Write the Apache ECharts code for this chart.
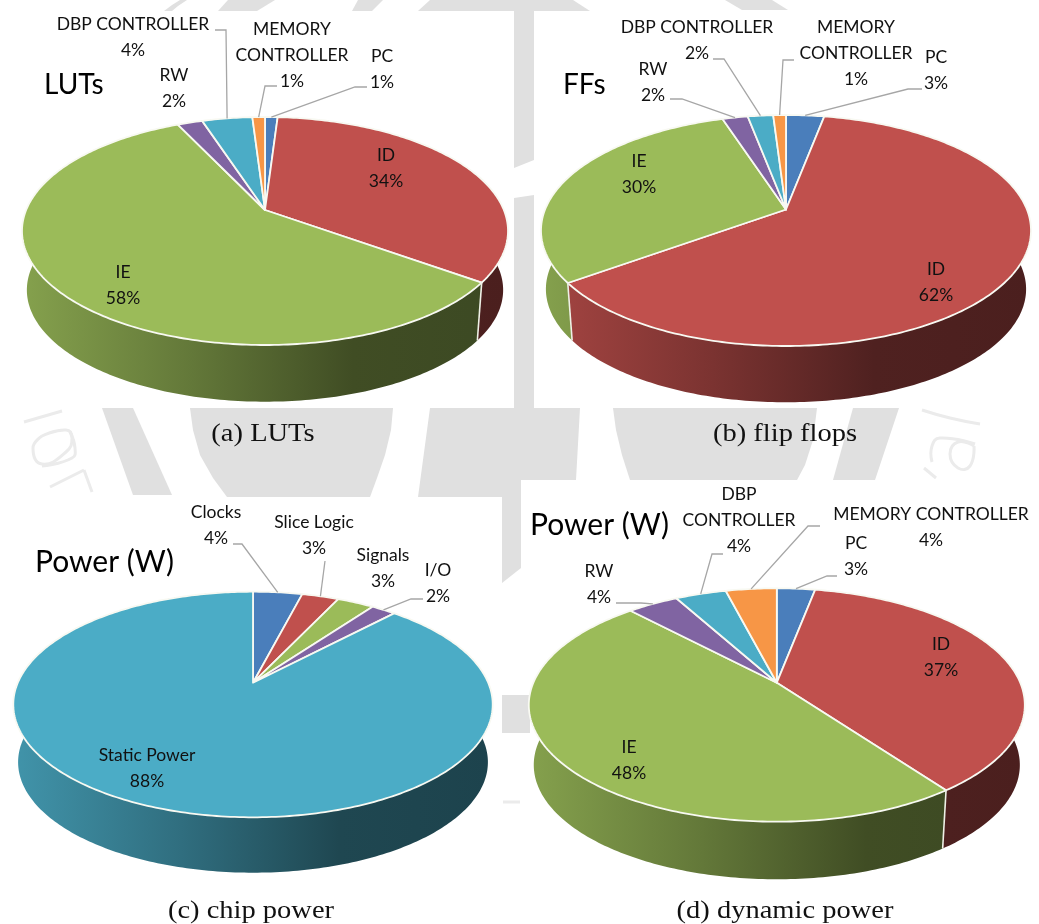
<!DOCTYPE html>
<html>
<head>
<meta charset="utf-8">
<title>FPGA resource and power breakdown</title>
<style>
  html, body { margin: 0; padding: 0; background: #ffffff; }
  #chart { width: 1039px; height: 924px; }
</style>
<script src="https://cdn.jsdelivr.net/npm/echarts@6/dist/echarts.min.js"></script>
</head>
<body>
<div id="chart"></div>
<script>
// Per-module shares, in percent, listed clockwise from twelve o'clock.
const lutsNames = ['PC', 'ID', 'IE', 'RW', 'DBP CONTROLLER', 'MEMORY\nCONTROLLER'];
const lutsValues = [1, 34, 58, 2, 4, 1];

const flopsNames = ['PC', 'ID', 'IE', 'RW', 'DBP CONTROLLER', 'MEMORY\nCONTROLLER'];
const flopsValues = [3, 62, 30, 2, 2, 1];

const chipNames = ['Clocks', 'Slice Logic', 'Signals', 'I/O', 'Static Power'];
const chipValues = [4, 3, 3, 2, 88];

const dynamicNames = ['PC', 'ID', 'IE', 'RW', 'DBP\nCONTROLLER', 'MEMORY CONTROLLER'];
const dynamicValues = [3, 37, 48, 4, 4, 4];

const BLUE = '#4a7ebb', RED = '#c0504d', GREEN = '#9bbb59',
      PURPLE = '#8064a2', CYAN = '#4bacc6', ORANGE = '#f79646';
const moduleColors = [BLUE, RED, GREEN, PURPLE, CYAN, ORANGE];
const chipColors = [BLUE, RED, GREEN, PURPLE, CYAN];

const LABEL_FONT = '"Lato", "Open Sans", sans-serif';
const CAPTION_FONT = '"Liberation Serif", serif';
const WALL_SHRINK = 0.98;

// Disc geometry: apex of the slices, half width, rim top/bottom and wall bottom.
// Each label gives its centre; "via" is the leader's path up to the slice rim.
const panels = [
  {
    names: lutsNames, values: lutsValues, colors: moduleColors,
    ax: 265, ay: 210, rx: 243, top: 117, bottom: 345, floor: 401.7,
    labels: [
      { x: 382, y: 69, via: [[367, 87], [355, 87]] },
      { x: 386, y: 168 },
      { x: 123, y: 285 },
      { x: 174, y: 88.5 },
      { x: 133, y: 37, via: [[215, 30], [226, 30]] },
      { x: 292, y: 55, via: [[277, 86], [265, 86]] }
    ]
  },
  {
    names: flopsNames, values: flopsValues, colors: moduleColors,
    ax: 786, ay: 209.5, rx: 245, top: 115, bottom: 346, floor: 402.3,
    labels: [
      { x: 936, y: 70, via: [[922, 89], [908, 89]] },
      { x: 936, y: 282 },
      { x: 639, y: 174.5 },
      { x: 653, y: 82, via: [[670, 99], [682, 99]] },
      { x: 697, y: 40, via: [[713, 59], [724, 59]] },
      { x: 856, y: 53, via: [[794, 60], [783, 60]] }
    ]
  },
  {
    names: chipNames, values: chipValues, colors: chipColors,
    ax: 253, ay: 682.7, rx: 239.7, top: 591.7, bottom: 817.3, floor: 872.7,
    labels: [
      { x: 216, y: 525.5, via: [[233, 544], [242, 544]] },
      { x: 314, y: 535.5, via: [[325, 561]] },
      { x: 383, y: 568.5 },
      { x: 438, y: 583, via: [[423, 599], [411, 599]] },
      { x: 147, y: 768 }
    ]
  },
  {
    names: dynamicNames, values: dynamicValues, colors: moduleColors,
    ax: 776.8, ay: 682.7, rx: 248, top: 588.3, bottom: 821.7, floor: 879.3,
    labels: [
      { x: 856, y: 556, via: [[837, 576], [827, 576]] },
      { x: 941, y: 657.5 },
      { x: 629, y: 760 },
      { x: 599, y: 584, via: [[616, 603], [641, 603]] },
      { x: 739, y: 520, via: [[723, 554], [712, 554]] },
      { x: 931, y: 527.5, via: [[820, 526], [808, 526]] }
    ]
  }
];

const headings = [
  { text: 'LUTs', x: 44, y: 85, size: 28 },
  { text: 'FFs', x: 563, y: 85, size: 28 },
  { text: 'Power (W)', x: 35, y: 562, size: 30 },
  { text: 'Power (W)', x: 530, y: 525, size: 30 }
];

const captions = [
  { text: '(a) LUTs', x: 263, y: 434 },
  { text: '(b) flip flops', x: 785, y: 434 },
  { text: '(c) chip power', x: 251, y: 911 },
  { text: '(d) dynamic power', x: 785, y: 911 }
];

// A tilted disc is a perspective image of a circle: the slice apex sits above
// the centre of the visible ellipse, and slices keep their angle on the circle.
function makeProjection(p) {
  const up = p.ay - p.top, down = p.bottom - p.ay;
  const k = (down - up) / (down + up);
  const sy = up * (1 + k);
  const sx = p.rx * Math.sqrt(1 - k * k);
  const wallDrop = p.floor - p.ay - WALL_SHRINK * down;
  const at = (share, lower) => {
    const theta = share / 100 * Math.PI * 2;
    const u = Math.sin(theta), v = -Math.cos(theta), w = 1 - k * v;
    const s = lower ? WALL_SHRINK : 1;
    return [p.ax + s * sx * u / w, p.ay + (lower ? wallDrop : 0) + s * sy * v / w];
  };
  return { at, k };
}

function arcPoints(at, from, to, lower) {
  const steps = Math.max(2, Math.ceil((to - from) * 4));
  const pts = [];
  for (let i = 0; i <= steps; i++) pts.push(at(from + (to - from) * i / steps, lower));
  return pts;
}

function shade(hex, f) {
  const n = parseInt(hex.slice(1), 16);
  const c = [n >> 16, (n >> 8) & 255, n & 255].map(x => Math.round(x * f));
  return 'rgb(' + c.join(',') + ')';
}

function wallFill(p, color) {
  return new echarts.graphic.LinearGradient(p.ax - p.rx, 0, p.ax + p.rx, 0, [
    { offset: 0, color: shade(color, 0.86) },
    { offset: 0.35, color: shade(color, 0.64) },
    { offset: 0.68, color: shade(color, 0.41) },
    { offset: 1, color: shade(color, 0.39) }
  ], true);
}

function shareBefore(p, index) {
  return p.values.slice(0, index).reduce((a, b) => a + b, 0);
}

function wallSeries(p) {
  const proj = makeProjection(p);
  return {
    type: 'custom', coordinateSystem: 'none', z: 2, silent: true, animation: false,
    data: p.values,
    renderItem(params, api) {
      const from = shareBefore(p, params.dataIndex), to = from + api.value(0);
      const upper = arcPoints(proj.at, from, to, false);
      const lower = arcPoints(proj.at, from, to, true).reverse();
      return {
        type: 'polygon',
        shape: { points: upper.concat(lower) },
        style: { fill: wallFill(p, p.colors[params.dataIndex]) }
      };
    }
  };
}

function faceSeries(p) {
  const proj = makeProjection(p);
  return {
    type: 'custom', coordinateSystem: 'none', z: 3, silent: true, animation: false,
    data: p.values,
    renderItem(params, api) {
      const from = shareBefore(p, params.dataIndex), to = from + api.value(0);
      const children = [{
        type: 'polygon',
        shape: { points: [[p.ax, p.ay]].concat(arcPoints(proj.at, from, to, false)) },
        style: { fill: p.colors[params.dataIndex], stroke: '#f8f9f2', lineWidth: 1.8, lineJoin: 'round' }
      }];
      // Slice boundaries that fall on the front of the disc continue down the wall.
      const v = -Math.cos(from / 100 * Math.PI * 2);
      if (v > proj.k) {
        const a = proj.at(from, false), b = proj.at(from, true);
        children.push({
          type: 'line',
          shape: { x1: a[0], y1: a[1], x2: b[0], y2: b[1] },
          style: { stroke: '#eef0e6', lineWidth: 1.6 }
        });
      }
      return { type: 'group', children };
    }
  };
}

function labelSeries(p) {
  const proj = makeProjection(p);
  return {
    type: 'custom', coordinateSystem: 'none', z: 4, silent: true, animation: false,
    data: p.values,
    renderItem(params, api) {
      const i = params.dataIndex, value = api.value(0);
      const label = p.labels[i];
      const children = [{
        type: 'text',
        style: {
          text: p.names[i] + '\n' + value + '%',
          x: label.x, y: label.y,
          align: 'center', verticalAlign: 'middle',
          fill: '#111111',
          font: '17.5px ' + LABEL_FONT,
          lineHeight: 26
        }
      }];
      if (label.via) {
        const rim = proj.at(shareBefore(p, i) + value / 2, false);
        children.push({
          type: 'polyline',
          shape: { points: label.via.concat([rim]) },
          style: { stroke: '#a6a6a6', lineWidth: 1.3, fill: null }
        });
      }
      return { type: 'group', children };
    }
  };
}

// Pale backdrop behind the four panels.
const backdropColor = '#e0e0e0';
const backdropShapes = [
  [[164, 11], [172, 5], [180, 0], [187, 0], [178, 6], [172, 11]],
  [[228, 0], [275, 0], [257, 11], [218, 11]],
  [[358, 0], [383, 0], [372, 11], [352, 11]],
  [[430, 0], [573, 0], [590, 11], [418, 11]],
  [[725, 0], [772, 0], [788, 10], [742, 10]],
  [[514, 0], [534, 0], [534, 408], [514, 408]],
  [[102, 408], [133, 408], [172, 495], [133, 495]],
  [[190, 408], [393, 408], [391, 430], [385, 455], [377, 478], [370, 497], [227, 497], [213, 478], [200, 455], [193, 430]],
  [[430, 408], [580, 408], [576, 480], [521, 480], [521, 568], [502, 583], [502, 497], [418, 497]],
  [[613, 408], [817, 408], [813, 440], [805, 465], [797, 480], [630, 480], [622, 455], [616, 430]],
  [[853, 408], [899, 408], [875, 480], [833, 480]]
];
const backdropStrokes = [
  [[24, 422], [62, 411]],
  [[50, 487], [84, 470]],
  [[84, 470], [92, 492]],
  [[42, 436], [33, 448], [42, 464], [66, 452], [72, 438], [66, 430], [42, 436]],
  [[70, 432], [75, 448], [72, 458], [42, 466]],
  [[922, 410], [950, 418], [980, 424]],
  [[974, 446], [958, 442], [950, 454], [958, 468], [970, 466], [974, 446]],
  [[975, 444], [940, 438], [932, 446], [932, 462]],
  [[924, 468], [936, 478]],
  [[503, 802], [520, 802]]
];

function buildGraphics() {
  const elements = [];
  backdropShapes.forEach(points => elements.push({
    type: 'polygon', z: 0, shape: { points }, style: { fill: backdropColor }
  }));
  backdropStrokes.forEach(points => elements.push({
    type: 'polyline', z: 0, shape: { points, smooth: points.length > 2 ? 0.5 : 0 },
    style: { stroke: '#ebebeb', lineWidth: 3, fill: null, lineJoin: 'round' }
  }));
  // Notch in the centre strip and the patch beside the lower-left panel.
  elements.push({ type: 'polygon', z: 1, shape: { points: [[514, 168], [534, 160], [534, 195], [514, 198]] }, style: { fill: '#ffffff' } });
  elements.push({ type: 'rect', z: 1, shape: { x: 502, y: 695, width: 28, height: 38 }, style: { fill: backdropColor } });
  headings.forEach(h => elements.push({
    type: 'text', z: 5, silent: true,
    style: { text: h.text, x: h.x, y: h.y, verticalAlign: 'middle', fill: '#000000', font: h.size + 'px ' + LABEL_FONT }
  }));
  // The caption face runs narrow, so it is stretched sideways about its centre.
  captions.forEach(c => elements.push({
    type: 'text', z: 5, silent: true, x: c.x, y: c.y, scaleX: 1.14,
    style: { text: c.text, x: 0, y: 0, align: 'center', verticalAlign: 'middle', fill: '#111111', font: '25px ' + CAPTION_FONT }
  }));
  return elements;
}

const chart = echarts.init(document.getElementById('chart'), null, { renderer: 'canvas' });
chart.setOption({
  animation: false,
  backgroundColor: '#ffffff',
  graphic: { elements: buildGraphics() },
  series: panels.flatMap(p => [wallSeries(p), faceSeries(p), labelSeries(p)])
});
</script>
</body>
</html>
